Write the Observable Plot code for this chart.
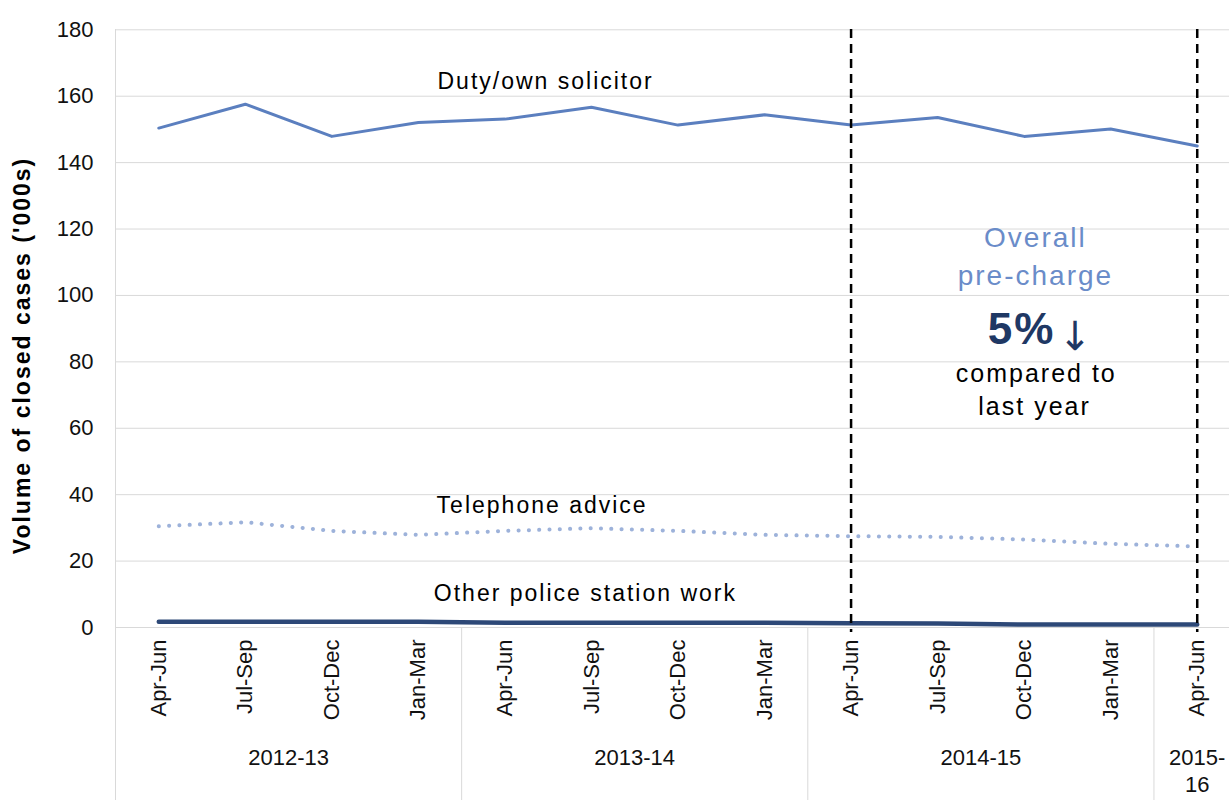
<!DOCTYPE html>
<html>
<head>
<meta charset="utf-8">
<script src="https://cdn.jsdelivr.net/npm/d3@7"></script>
<script src="https://cdn.jsdelivr.net/npm/@observablehq/plot@0.6"></script>
<style>
html, body { margin: 0; padding: 0; background: #fff; overflow: hidden; }
#chart svg g[aria-label="text"] text { letter-spacing: 2px; }
</style>
</head>
<body>
<div id="chart"></div>
<script>
// ---- data ----
const quarters = ["Apr-Jun","Jul-Sep","Oct-Dec","Jan-Mar","Apr-Jun","Jul-Sep","Oct-Dec","Jan-Mar","Apr-Jun","Jul-Sep","Oct-Dec","Jan-Mar","Apr-Jun"];
const years = ["2012-13", "2013-14", "2014-15", "2015-\n16"];
const yearCentres = [1.5, 5.5, 9.5, 12];
const yearBounds = [-0.5, 3.5, 7.5, 11.5];
const dutySolicitor = [150.4, 157.6, 147.9, 152.1, 153.1, 156.7, 151.3, 154.4, 151.3, 153.6, 147.9, 150.1, 145.0];
const telephoneAdvice = [30.5, 31.7, 29.1, 27.9, 29.1, 29.9, 29.1, 27.9, 27.5, 27.3, 26.5, 25.2, 24.4];
const otherPolice = [1.7, 1.7, 1.7, 1.7, 1.4, 1.4, 1.4, 1.4, 1.3, 1.2, 0.9, 0.9, 0.9];
const markerQuarters = [8, 12];
const yTicks = [0, 20, 40, 60, 80, 100, 120, 140, 160, 180];

const seriesLabels = [
  {text: "Duty/own solicitor", x: 4.47, y: 164.3},
  {text: "Telephone advice", x: 4.43, y: 36.8},
  {text: "Other police station work", x: 4.93, y: 10.2}
];
const noteBlue = [
  {text: "Overall", x: 10.13, y: 117.2},
  {text: "pre-charge", x: 10.13, y: 105.8}
];
const notePct = [{text: "5%", x: 9.97, y: 89.7}];
const noteArrow = [{text: "↓", x: 10.6, y: 87.5}];
const noteBlack = [
  {text: "compared to", x: 10.14, y: 76.2},
  {text: "last year", x: 10.12, y: 66.4}
];
const yTitle = ["Volume of closed cases ('000s)"];

// ---- build ----
const idx = d3.range(quarters.length);
const rows = s => idx.map(i => ({i, v: s[i]}));

const plot = Plot.plot({
  width: 1229,
  height: 800,
  marginLeft: 115,
  marginRight: 0,
  marginTop: 29,
  marginBottom: 173,
  style: {fontFamily: "'Liberation Sans', Arial, sans-serif", fontSize: "22px", color: "#111", background: "#fff"},
  x: {type: "linear", domain: [-0.5, 12.5], range: [115, 1240]},
  y: {domain: [0, 180], range: [627, 29.3]},
  marks: [
    Plot.gridY(yTicks, {stroke: "#d9d9d9", strokeOpacity: 1, strokeWidth: 1}),
    Plot.ruleX([yearBounds[0]], {stroke: "#d9d9d9", strokeWidth: 1}),
    Plot.axisX(yearBounds, {tickSize: 173, tickFormat: () => "", stroke: "#d9d9d9", strokeOpacity: 1, label: null}),
    Plot.line(rows(telephoneAdvice), {x: "i", y: "v", stroke: "#9db2da", strokeWidth: 4, strokeDasharray: "0.1,10.2", strokeLinecap: "round"}),
    Plot.line(rows(dutySolicitor), {x: "i", y: "v", stroke: "#5b7fbf", strokeWidth: 3}),
    Plot.line(rows(otherPolice), {x: "i", y: "v", stroke: "#2d4877", strokeWidth: 4.5}),
    Plot.ruleX(markerQuarters, {stroke: "#000", strokeWidth: 2.5, strokeDasharray: "9,6", insetBottom: -5}),
    Plot.axisY(yTicks, {tickSize: 0, tickPadding: 22, label: null, fontSize: 22}),
    Plot.axisX(idx, {tickFormat: i => quarters[i], tickRotate: -90, tickSize: 0, tickPadding: 12, label: null, fontSize: 22}),
    Plot.axisX(yearCentres, {tickFormat: d => years[yearCentres.indexOf(d)], tickSize: 0, tickPadding: 119, label: null, fontSize: 22, lineHeight: 1.2}),
    Plot.text(seriesLabels, {x: "x", y: "y", text: "text", fontSize: 23, fill: "#000"}),
    Plot.text(noteBlue, {x: "x", y: "y", text: "text", fontSize: 28, fill: "#6a8cc9"}),
    Plot.text(notePct, {x: "x", y: "y", text: "text", fontSize: 44, fontWeight: "bold", fill: "#1f3864"}),
    Plot.text(noteArrow, {x: "x", y: "y", text: "text", fontSize: 40, fontFamily: "'DejaVu Sans'", fill: "#1f3864"}),
    Plot.text(noteBlack, {x: "x", y: "y", text: "text", fontSize: 25, fill: "#000"}),
    Plot.text(yTitle, {frameAnchor: "left", textAnchor: "middle", rotate: -90, dx: -93, dy: 27, fontSize: 23, fontWeight: "bold", fill: "#000"})
  ]
});
document.getElementById("chart").appendChild(plot);
</script>
</body>
</html>
